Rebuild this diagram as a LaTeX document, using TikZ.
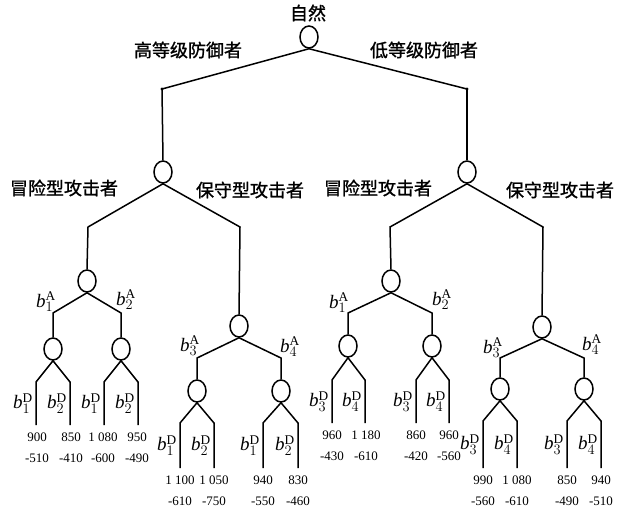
\documentclass[tikz,border=0pt]{standalone}
\usepackage{fontspec}
\setmainfont{Liberation Serif}
\newfontfamily\cjk[FakeBold=1.2]{Noto Sans CJK SC}
\usetikzlibrary{shapes.geometric,calc}
\tikzset{
  chance/.style={ellipse, draw, line width=1.5pt, minimum width=18pt, minimum height=22pt, inner sep=0pt},
  edge/.style={line width=1.5pt},
  cn/.style={font=\cjk\fontsize{18}{20}\selectfont, inner sep=0pt},
  bl/.style={font=\fontsize{19}{21}\selectfont, inner sep=0pt},
  num/.style={font=\fontsize{13}{15}\selectfont, inner sep=0pt},
}
\newcommand{\bsym}[2]{$\mathit{b}_{#1}^{\mathrm{#2}}$}
% #1 node name, #2 left x, #3 right x, #4 shoulder y, #5 bottom y, #6 left index, #7 right index
\newcommand{\twoleaves}[7]{%
  \coordinate (#1l) at (#2,#4); \coordinate (#1r) at (#3,#4);
  \coordinate (#1lb) at (#2,#5); \coordinate (#1rb) at (#3,#5);
  \draw[edge] (#1lb) -- (#1l) -- (#1.south) -- (#1r) -- (#1rb);
  \node[bl, anchor=east] (#1lt) at ($(#1l)!0.5!(#1lb)+(-3,0)$) {\bsym{#6}{D}};
  \node[bl, anchor=east] (#1rt) at ($(#1r)!0.5!(#1rb)+(-3,0)$) {\bsym{#7}{D}};
}
% #1 name, #2 x, #3 bottom y, #4 top number, #5 bottom number
\newcommand{\paynums}[5]{%
  \node[num] (#1a) at (#2,#3+12) {#4};
  \node[num] (#1b) at (#2,#3+33) {#5};
}
\begin{document}
\begin{tikzpicture}[x=1pt,y=-1pt]
\useasboundingbox (0,0) rectangle (618,512);
% root
\node[chance] (n0) at (309,37) {};
\node[cn] (t0) at (308,13) {自然};
\coordinate (cA) at (162,89); \coordinate (cB) at (467,89);
\draw[edge] (cA) -- (n0.south) -- (cB);
\fill (cA) circle (1.6pt); \fill (cB) circle (1.6pt);
\node[cn] (tH) at (188,50) {高等级防御者};
\node[cn] (tLo) at (424,50) {低等级防御者};
% level 1
\node[chance] (L) at (163,172) {};
\node[chance] (R) at (467,172) {};
\draw[edge] (cA) -- (L.north);
\draw[edge] (cB) -- (R.north);
\node[cn] (tL1) at (64,188) {冒险型攻击者};
\node[cn] (tL2) at (250,190) {保守型攻击者};
\node[cn] (tR1) at (378,188) {冒险型攻击者};
\node[cn] (tR2) at (560,190) {保守型攻击者};
\coordinate (Ll) at (88,227); \coordinate (Lr) at (240,227);
\coordinate (Rl) at (390,227); \coordinate (Rr) at (543,227);
\node[chance] (LL) at (87,281) {};
\node[chance] (LR) at (239,326) {};
\node[chance] (RL) at (391,281) {};
\node[chance] (RR) at (542,327) {};
\draw[edge] (LL.north) -- (Ll) -- (L.south) -- (Lr) -- (LR.north);
\draw[edge] (RL.north) -- (Rl) -- (R.south) -- (Rr) -- (RR.north);
% level 2
\coordinate (LLl) at (53,313); \coordinate (LLr) at (121,313);
\coordinate (LRl) at (197,358); \coordinate (LRr) at (281,358);
\coordinate (RLl) at (348,313); \coordinate (RLr) at (432,313);
\coordinate (RRl) at (500,358); \coordinate (RRr) at (584,358);
\node[chance] (LL1) at (53,349) {};
\node[chance] (LL2) at (121,349) {};
\node[chance] (LR1) at (197,391) {};
\node[chance] (LR2) at (281,391) {};
\node[chance] (RL1) at (348,346) {};
\node[chance] (RL2) at (432,346) {};
\node[chance] (RR1) at (500,389) {};
\node[chance] (RR2) at (584,389) {};
\draw[edge] (LL1.north) -- (LLl) -- (LL.south) -- (LLr) -- (LL2.north);
\draw[edge] (LR1.north) -- (LRl) -- (LR.south) -- (LRr) -- (LR2.north);
\draw[edge] (RL1.north) -- (RLl) -- (RL.south) -- (RLr) -- (RL2.north);
\draw[edge] (RR1.north) -- (RRl) -- (RR.south) -- (RRr) -- (RR2.north);
\node[bl] (aLL1) at ($(LLl)+(-7,-11)$) {\bsym{1}{A}};
\node[bl] (aLL2) at ($(LLr)+(5,-13)$) {\bsym{2}{A}};
\node[bl] (aLR1) at ($(LRl)+(-7,-12)$) {\bsym{3}{A}};
\node[bl] (aLR2) at ($(LRr)+(9,-11)$) {\bsym{4}{A}};
\node[bl] (aRL1) at ($(RLl)+(-9,-10)$) {\bsym{1}{A}};
\node[bl] (aRL2) at ($(RLr)+(10,-13)$) {\bsym{2}{A}};
\node[bl] (aRR1) at ($(RRl)+(-7,-10)$) {\bsym{3}{A}};
\node[bl] (aRR2) at ($(RRr)+(8,-13)$) {\bsym{4}{A}};
% leaves
\twoleaves{LL1}{36}{70}{382}{425}{1}{2}
\twoleaves{LL2}{104}{138}{382}{425}{1}{2}
\twoleaves{LR1}{180}{214}{423}{468}{1}{2}
\twoleaves{LR2}{263}{298}{423}{468}{1}{2}
\twoleaves{RL1}{332}{365}{380}{423}{3}{4}
\twoleaves{RL2}{416}{449}{380}{423}{3}{4}
\twoleaves{RR1}{483}{517}{421}{468}{3}{4}
\twoleaves{RR2}{567}{601}{421}{468}{3}{4}
% payoffs
\paynums{p1}{37}{425}{900}{-510}
\paynums{p2}{71}{425}{850}{-410}
\paynums{p3}{103}{425}{1 080}{-600}
\paynums{p4}{137}{425}{950}{-490}
\paynums{p5}{180}{468}{1 100}{-610}
\paynums{p6}{214}{468}{1 050}{-750}
\paynums{p7}{263}{468}{940}{-550}
\paynums{p8}{298}{468}{830}{-460}
\paynums{p9}{332}{423}{960}{-430}
\paynums{p10}{366}{423}{1 180}{-610}
\paynums{p11}{416}{423}{860}{-420}
\paynums{p12}{449}{423}{960}{-560}
\paynums{p13}{483}{468}{990}{-560}
\paynums{p14}{517}{468}{1 080}{-610}
\paynums{p15}{567}{468}{850}{-490}
\paynums{p16}{601}{468}{940}{-510}
\end{tikzpicture}
\end{document}
